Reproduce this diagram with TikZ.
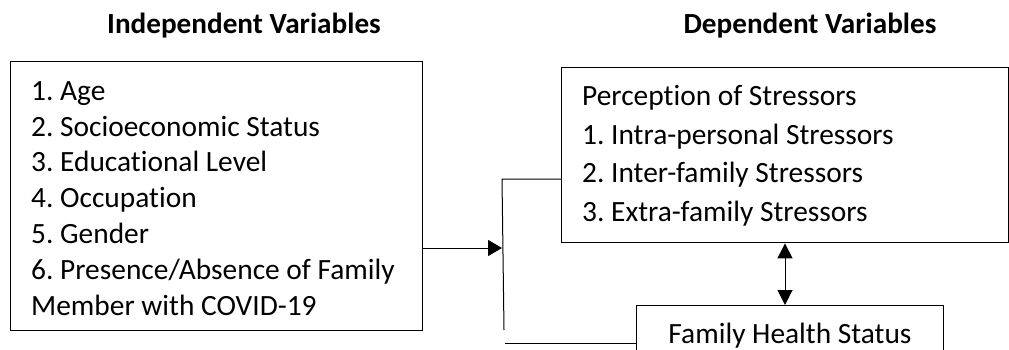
\documentclass[tikz,border=0pt]{standalone}
\usepackage{fontspec}
\setmainfont{Carlito}[Ligatures={NoCommon,TeX}]
\frenchspacing
\usetikzlibrary{arrows.meta}
\begin{document}
\frenchspacing
\begin{tikzpicture}[x=1pt,y=-1pt,
  box/.style={draw, line width=1.4pt, inner sep=0pt, anchor=north west},
  txt/.style={anchor=base west, inner sep=0pt, font=\fontsize{29.4}{35}\selectfont},
  ctxt/.style={anchor=base, inner sep=0pt, font=\fontsize{29.4}{35}\selectfont},
  head/.style={anchor=base, inner sep=0pt, font=\bfseries\fontsize{29.2}{35}\selectfont},
  conn/.style={line width=1pt},
  tipr/.style={-{Triangle[length=14pt,width=16pt]}},
  tipboth/.style={{Triangle[length=15pt,width=15pt]}-{Triangle[length=15pt,width=15pt]}}]
\useasboundingbox (0,0) rectangle (1009,350);
\clip (0,0) rectangle (1009,350);
% headings
\node[head] (hiv) at (244,33.5) {Independent Variables};
\node[head] (hdv) at (810,33.5) {Dependent Variables};
% left box
\node[box, minimum width=412pt, minimum height=269pt] (iv) at (10,61) {};
\foreach \t [count=\i from 0] in {1. Age,2. Socioeconomic Status,3. Educational Level,4. Occupation,5. Gender,6. Presence/Absence of Family,Member with COVID-19}
  \node[txt] (ivl\i) at (31,100.3+35.8*\i) {\t};
% right top box
\node[box, minimum width=447pt, minimum height=175pt] (ps) at (561,67) {};
\foreach \t [count=\i from 0] in {Perception of Stressors,1. Intra-personal Stressors,2. Inter-family Stressors,3. Extra-family Stressors}
  \node[txt] (psl\i) at (582,105.3+38.7*\i) {\t};
% bottom box
\node[box, minimum width=307pt, minimum height=80pt] (fh) at (636,305) {};
\node[ctxt] (fhl) at (790,343.7) {Family Health Status};
% connectors
\coordinate (j) at (502,248);
\coordinate (bt) at (502,179);
\coordinate (bb) at (504,330);
\coordinate (bl) at (505,343);
\coordinate (da) at (785,0);
\draw[conn, tipr] (iv.east |- j) -- (j);
\draw[conn] (ps.west |- bt) -- (bt) -- (bb);
\draw[conn] (bl) -- (fh.west |- bl);
\draw[conn, tipboth] (ps.south -| da) -- (fh.north -| da);
\end{tikzpicture}
\end{document}
